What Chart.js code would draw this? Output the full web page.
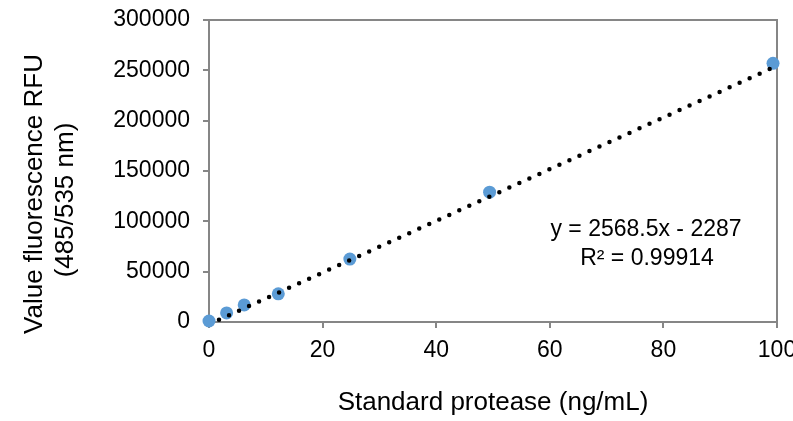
<!DOCTYPE html>
<html>
<head>
<meta charset="utf-8">
<script src="https://cdn.jsdelivr.net/npm/chart.js@4"></script>
<style>
  body { margin: 0; background: #fff; }
  #wrap { width: 793px; height: 421px; position: relative; }
</style>
</head>
<body>
<div id="wrap"><canvas id="std-chart"></canvas></div>
<script>
// Standard curve data

const concentration = [0, 3.1, 6.2, 12.2, 24.8, 49.4, 99.3];
const fluorescence = [1000, 9000, 17000, 28000, 62500, 129000, 257000];

// trendline ends as drawn (y = 2568.5x - 2287)
const trendX = [0, 99.3];
const trendY = [-2287, 252760];

const xTicks = [0, 20, 40, 60, 80, 100];
const yTicks = [0, 50000, 100000, 150000, 200000, 250000, 300000];

const equationLines = ["y = 2568.5x - 2287", "R\u00b2 = 0.99914"];
const yTitleLines = ["Value fluorescence RFU", "(485/535 nm)"];

const axisColor = "#868686";
const font = "'Liberation Sans', Arial, sans-serif";

const frame = {
  id: "frame",
  beforeDatasetsDraw(chart) {
    const { ctx, chartArea: a } = chart;
    ctx.save();
    ctx.strokeStyle = axisColor;
    ctx.lineWidth = 2;
    ctx.beginPath();
    ctx.moveTo(a.left, a.top);
    ctx.lineTo(a.right, a.top);
    ctx.lineTo(a.right, a.bottom);
    ctx.stroke();
    ctx.restore();
  },
  afterDraw(chart) {
    const ctx = chart.ctx;
    ctx.save();
    ctx.fillStyle = "#000";
    // equation
    ctx.font = "23px " + font;
    ctx.textAlign = "center";
    ctx.textBaseline = "alphabetic";
    ctx.fillText(equationLines[0], 646, 236);
    ctx.fillText(equationLines[1], 647, 265);
    // y axis title
    ctx.font = "26px " + font;
    ctx.translate(42, 194);
    ctx.rotate(-Math.PI / 2);
    ctx.fillText(yTitleLines[0], 0, 0);
    ctx.fillText(yTitleLines[1], -6, 31);
    ctx.restore();
  },
};

const ctx = document.getElementById("std-chart");

new Chart(ctx, {
  type: "scatter",
  data: {
    datasets: [
      {
        type: "line",
        data: trendX.map((x, i) => ({ x: x, y: trendY[i] })),
        borderColor: "#000",
        borderWidth: 4.5,
        borderDash: [0, 11],
        borderCapStyle: "round",
        pointRadius: 0,
        fill: false,
        tension: 0,
      },
      {
        data: concentration.map((x, i) => ({ x: x, y: fluorescence[i] })),
        backgroundColor: "#5B9BD5",
        borderWidth: 0,
        pointRadius: 6.5,
        clip: false,
      },
    ],
  },
  options: {
    responsive: true,
    maintainAspectRatio: false,
    animation: false,
    layout: { padding: { top: 20, right: 16, left: 0, bottom: 0 } },
    plugins: { legend: { display: false }, tooltip: { enabled: false } },
    scales: {
      x: {
        type: "linear",
        min: 0,
        max: 100,
        afterBuildTicks: (s) => { s.ticks = xTicks.map((v) => ({ value: v })); },
        afterFit: (s) => { s.height = 99; s.paddingLeft = 0; s.paddingRight = 0; },
        ticks: { color: "#000", font: { size: 23, family: font }, padding: 9, maxRotation: 0, callback: (v) => String(v) },
        grid: { drawOnChartArea: false, tickLength: 6, color: axisColor, lineWidth: 2 },
        border: { color: axisColor, width: 2 },
        title: {
          display: true,
          text: "Standard protease (ng/mL)",
          color: "#000",
          font: { size: 26, family: font },
          padding: { top: 0, bottom: 3 },
        },
      },
      y: {
        min: 0,
        max: 300000,
        afterBuildTicks: (s) => { s.ticks = yTicks.map((v) => ({ value: v })); },
        afterFit: (s) => { s.width = 209; s.paddingTop = 0; s.paddingBottom = 0; },
        ticks: { color: "#000", font: { size: 23, family: font }, padding: 13, callback: (v) => String(v) },
        grid: { drawOnChartArea: false, tickLength: 6, color: axisColor, lineWidth: 2 },
        border: { color: axisColor, width: 2 },
      },
    },
  },
  plugins: [frame],
});
</script>
</body>
</html>
